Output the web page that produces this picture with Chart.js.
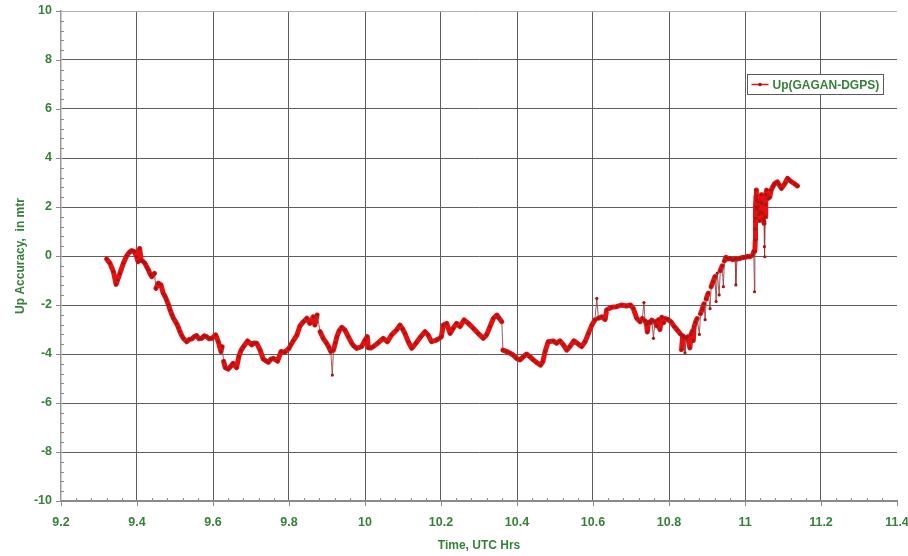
<!DOCTYPE html>
<html>
<head>
<meta charset="utf-8">
<title>Up(GAGAN-DGPS)</title>
<script src="https://cdn.jsdelivr.net/npm/chart.js@4.4.1/dist/chart.umd.min.js"></script>
<style>
  html, body { margin: 0; padding: 0; background: #ffffff; }
  #wrap { width: 908px; height: 556px; position: relative; }
</style>
</head>
<body>
<div id="wrap"><canvas id="chart" width="908" height="556"></canvas></div>
<script>
// Labels
const seriesName = 'Up(GAGAN-DGPS)';
const xTitle = 'Time, UTC Hrs';
const yTitle = 'Up Accuracy,  in mtr';

// Axis ranges and tick spacing
const xBounds = [9.2, 11.4];
const xStep = 0.2;
const xMinorStep = 0.04;
const yBounds = [-10, 10];
const yStep = 2;
const yMinorStep = 0.4;

// Time of each sample, UTC hours
const timeHrs = [
  9.320, 9.329, 9.338, 9.345, 9.349, 9.355, 9.364, 9.373, 9.380, 9.386,
  9.393, 9.399, 9.403, 9.407, 9.411, 9.416, 9.421, 9.426, 9.430, 9.435,
  9.439, 9.446, 9.450, 9.456, 9.463, 9.469, 9.474, 9.478, 9.483, 9.487,
  9.492, 9.496, 9.504, 9.509, 9.513, 9.518, 9.522, 9.531, 9.538, 9.544,
  9.550, 9.557, 9.563, 9.570, 9.577, 9.583, 9.590, 9.597, 9.607, 9.614,
  9.621, 9.624, 9.628, 9.632, 9.640, 9.647, 9.653, 9.662, 9.668, 9.674,
  9.680, 9.691, 9.702, 9.708, 9.715, 9.724, 9.732, 9.739, 9.746, 9.752,
  9.759, 9.770, 9.779, 9.789, 9.800, 9.805, 9.811, 9.821, 9.829, 9.838,
  9.847, 9.855, 9.864, 9.868, 9.874, 9.882, 9.890, 9.899, 9.905, 9.910,
  9.914, 9.917, 9.922, 9.926, 9.932, 9.939, 9.947, 9.956, 9.965, 9.971,
  9.978, 9.991, 10.000, 10.006, 10.009, 10.015, 10.022, 10.035, 10.048, 10.059,
  10.070, 10.083, 10.092, 10.099, 10.105, 10.114, 10.123, 10.134, 10.147, 10.158,
  10.166, 10.175, 10.188, 10.197, 10.201, 10.206, 10.215, 10.224, 10.232, 10.241,
  10.250, 10.261, 10.272, 10.285, 10.298, 10.311, 10.320, 10.329, 10.338, 10.347,
  10.353, 10.360, 10.363, 10.373, 10.382, 10.390, 10.399, 10.408, 10.417, 10.425,
  10.434, 10.443, 10.452, 10.462, 10.468, 10.474, 10.482, 10.496, 10.504, 10.513,
  10.522, 10.531, 10.539, 10.550, 10.561, 10.570, 10.579, 10.588, 10.597, 10.605,
  10.610, 10.614, 10.623, 10.632, 10.636, 10.649, 10.662, 10.675, 10.688, 10.699,
  10.706, 10.715, 10.724, 10.730, 10.734, 10.737, 10.741, 10.743, 10.746, 10.751,
  10.755, 10.759, 10.763, 10.768, 10.772, 10.776, 10.781, 10.786, 10.790, 10.797,
  10.805, 10.814, 10.822, 10.830, 10.833, 10.836, 10.840, 10.842, 10.845, 10.849,
  10.855, 10.858, 10.862, 10.864, 10.866, 10.870, 10.874, 10.880, 10.883, 10.888,
  10.892, 10.895, 10.898, 10.903, 10.908, 10.911, 10.916, 10.921, 10.924, 10.927,
  10.932, 10.935, 10.940, 10.943, 10.946, 10.950, 10.956, 10.961, 10.968, 10.974,
  10.976, 10.979, 10.987, 10.994, 11.000, 11.007, 11.013, 11.020, 11.023, 11.025,
  11.026, 11.027, 11.027, 11.028, 11.028, 11.029, 11.029, 11.031, 11.032, 11.034,
  11.035, 11.037, 11.038, 11.040, 11.041, 11.043, 11.044, 11.046, 11.048, 11.050,
  11.051, 11.0515, 11.052, 11.053, 11.054, 11.055, 11.057, 11.061, 11.065, 11.069,
  11.074, 11.078, 11.085, 11.090, 11.096, 11.105, 11.112, 11.117, 11.122, 11.131,
  11.138
];

// Up position error against DGPS, metres
const upErrM = [
  -0.12, -0.30, -0.64, -1.16, -0.98, -0.71, -0.30, 0.01, 0.15, 0.22,
  0.18, -0.03, -0.23, 0.31, -0.16, -0.22, -0.30, -0.45, -0.57, -0.75,
  -0.84, -0.71, -1.32, -1.11, -1.18, -1.52, -1.65, -1.80, -2.00, -2.20,
  -2.40, -2.54, -2.75, -2.92, -3.09, -3.25, -3.36, -3.50, -3.40, -3.39,
  -3.30, -3.25, -3.38, -3.36, -3.26, -3.29, -3.38, -3.36, -3.22, -3.50,
  -3.90, -3.70, -4.30, -4.55, -4.62, -4.50, -4.38, -4.56, -4.10, -3.85,
  -3.70, -3.47, -3.63, -3.55, -3.56, -3.84, -4.20, -4.28, -4.34, -4.22,
  -4.18, -4.29, -3.90, -3.93, -3.77, -3.62, -3.47, -3.22, -2.85, -2.68,
  -2.54, -2.75, -2.48, -2.82, -2.41, -3.09, -3.36, -3.56, -3.72, -3.90,
  -4.86, -3.84, -3.55, -3.29, -3.05, -2.91, -3.02, -3.29, -3.56, -3.68,
  -3.77, -3.70, -3.43, -3.29, -3.75, -3.76, -3.70, -3.54, -3.36, -3.50,
  -3.22, -3.02, -2.82, -2.98, -3.16, -3.50, -3.77, -3.56, -3.29, -3.09,
  -3.22, -3.50, -3.43, -3.35, -3.29, -2.82, -2.75, -3.16, -2.95, -2.75,
  -2.88, -2.61, -2.75, -2.95, -3.16, -3.36, -3.22, -2.88, -2.54, -2.41,
  -2.54, -2.68, -3.84, -3.90, -3.97, -4.04, -4.18, -4.24, -4.11, -4.00,
  -4.11, -4.24, -4.35, -4.45, -4.31, -3.90, -3.50, -3.47, -3.56, -3.46,
  -3.63, -3.84, -3.70, -3.46, -3.59, -3.70, -3.50, -3.16, -2.82, -2.61,
  -1.73, -2.54, -2.48, -2.59, -2.20, -2.09, -2.07, -2.00, -2.04, -2.00,
  -2.14, -2.54, -2.68, -2.55, -1.90, -2.65, -2.80, -3.10, -2.70, -2.72,
  -2.62, -3.36, -2.68, -2.85, -2.60, -3.00, -2.50, -2.72, -2.55, -2.59,
  -2.68, -2.88, -3.02, -3.18, -3.82, -3.25, -3.32, -3.95, -3.35, -3.30,
  -3.75, -3.20, -3.05, -3.45, -2.90, -2.70, -2.55, -3.20, -2.35, -2.15,
  -1.95, -2.60, -1.75, -1.52, -2.15, -1.25, -1.05, -0.84, -1.86, -0.70,
  -1.59, -0.60, -0.40, -1.25, -0.20, -0.05, -0.12, -0.10, -0.15, -0.12,
  -1.18, -0.12, -0.10, -0.06, -0.05, -0.02, -0.03, 0.04, 0.18, -1.46,
  0.20, 0.65, 1.10, 1.55, 2.00, 2.45, 2.69, 2.30, 1.90, 2.20,
  2.01, 1.70, 1.45, 1.80, 2.20, 2.50, 2.15, 1.75, 1.50, 1.33,
  0.38, 1.40, -0.03, 1.60, 2.10, 2.50, 2.69, 2.35, 2.40, 2.69,
  2.85, 2.96, 3.03, 2.90, 2.76, 2.96, 3.17, 3.10, 3.03, 2.94,
  2.86
];

const points = timeHrs.map((t, i) => ({ x: t, y: upErrM[i] }));

const GREEN = '#37803a';
const FONT = '"Liberation Sans", Arial, sans-serif';
const TRACE = 'rgb(230,16,16)';
const JUMP = 'rgba(150,60,60,0.85)';

// Sudden jumps between consecutive samples are drawn as thin connectors
const jumpLimit = 0.58;
function isJump(ctx) {
  return Math.abs(ctx.p1.parsed.y - ctx.p0.parsed.y) > jumpLimit;
}

const near = (a, b) => Math.abs(a - b) < 1e-6;

// Fixed plot frame: axes keep their own size, edge labels may overhang
function fixX(s) {
  s.height = 55;
  s.paddingLeft = 0; s.paddingRight = 0;
}
function fixY(s) {
  s.width = 61;
  s.paddingTop = 0; s.paddingBottom = 0;
}

// Ticks: major marks point outward, minor marks point into the plot
const axisTicks = {
  id: 'axisTicks',
  afterDraw(chart) {
    const { ctx, chartArea: a, scales } = chart;
    ctx.save();
    ctx.strokeStyle = '#8a8a8a';
    ctx.lineWidth = 1;
    const nx = Math.round((xBounds[1] - xBounds[0]) / xMinorStep);
    const perX = Math.round(xStep / xMinorStep);
    for (let i = 0; i <= nx; i++) {
      const px = Math.round(scales.x.getPixelForValue(xBounds[0] + i * xMinorStep)) + 0.5;
      ctx.beginPath();
      if (i % perX === 0) { ctx.moveTo(px, a.bottom); ctx.lineTo(px, a.bottom + 5); }
      else { ctx.moveTo(px, a.bottom); ctx.lineTo(px, a.bottom - 3); }
      ctx.stroke();
    }
    const ny = Math.round((yBounds[1] - yBounds[0]) / yMinorStep);
    const perY = Math.round(yStep / yMinorStep);
    for (let i = 0; i <= ny; i++) {
      const py = Math.round(scales.y.getPixelForValue(yBounds[0] + i * yMinorStep)) + 0.5;
      ctx.beginPath();
      if (i % perY === 0) { ctx.moveTo(a.left - 5, py); ctx.lineTo(a.left, py); }
      else { ctx.moveTo(a.left, py); ctx.lineTo(a.left + 3, py); }
      ctx.stroke();
    }
    ctx.restore();
  }
};

// Boxed legend inside the plot, upper right
const boxLegend = {
  id: 'boxLegend',
  afterDraw(chart) {
    const { ctx, chartArea: a } = chart;
    const w = 136, h = 20;
    const x0 = a.right - 149.5, y0 = a.top + 63.5;
    ctx.save();
    ctx.fillStyle = '#ffffff';
    ctx.fillRect(x0, y0, w, h);
    ctx.strokeStyle = '#5a5a5a';
    ctx.lineWidth = 1;
    ctx.strokeRect(x0, y0, w, h);
    const ly = y0 + h / 2;
    ctx.strokeStyle = TRACE;
    ctx.lineWidth = 1.5;
    ctx.beginPath(); ctx.moveTo(x0 + 4, ly); ctx.lineTo(x0 + 21, ly); ctx.stroke();
    ctx.fillStyle = '#a51515';
    ctx.beginPath(); ctx.arc(x0 + 12.5, ly, 1.8, 0, Math.PI * 2); ctx.fill();
    ctx.fillStyle = GREEN;
    ctx.font = 'bold 12px ' + FONT;
    ctx.textBaseline = 'middle';
    ctx.textAlign = 'left';
    ctx.fillText(seriesName, x0 + 25, ly + 1);
    ctx.restore();
  }
};

new Chart(document.getElementById('chart'), {
  type: 'line',
  data: {
    datasets: [{
      label: seriesName,
      data: points,
      borderColor: TRACE,
      borderWidth: 5,
      borderJoinStyle: 'round',
      borderCapStyle: 'round',
      pointRadius: 1.6,
      pointBorderWidth: 0,
      pointBackgroundColor: '#a51515',
      tension: 0,
      segment: {
        borderWidth: ctx => isJump(ctx) ? 1 : undefined,
        borderColor: ctx => isJump(ctx) ? JUMP : undefined
      }
    }]
  },
  options: {
    responsive: false,
    animation: false,
    devicePixelRatio: 1,
    layout: { padding: { top: 11, right: 11, left: 0, bottom: 0 } },
    plugins: { legend: { display: false }, tooltip: { enabled: false } },
    scales: {
      x: {
        type: 'linear',
        min: xBounds[0], max: xBounds[1],
        afterFit: fixX,
        ticks: {
          stepSize: xStep,
          padding: 14,
          maxRotation: 0,
          autoSkip: false,
          color: GREEN,
          font: { family: FONT, size: 12.5, weight: 'bold' },
          callback: v => String(+(+v).toFixed(1))
        },
        grid: {
          drawTicks: false,
          lineWidth: 1,
          color: c => (near(c.tick.value, xBounds[0]) || near(c.tick.value, xBounds[1])) ? 'rgba(0,0,0,0)' : '#5e5e5e'
        },
        border: { display: true, color: '#8a8a8a', width: 2 },
        title: {
          display: true, text: xTitle, color: GREEN,
          font: { family: FONT, size: 12, weight: 'bold' },
          padding: { top: 0, bottom: 3 }
        }
      },
      y: {
        type: 'linear',
        min: yBounds[0], max: yBounds[1],
        afterFit: fixY,
        ticks: {
          stepSize: yStep,
          padding: 9,
          color: GREEN,
          font: { family: FONT, size: 12.5, weight: 'bold' }
        },
        grid: {
          drawTicks: false,
          lineWidth: 1,
          color: c => near(c.tick.value, yBounds[0]) ? 'rgba(0,0,0,0)'
                    : near(c.tick.value, yBounds[1]) ? '#b0b0b0' : '#5e5e5e'
        },
        border: { display: true, color: '#9a9a9a', width: 1.5 },
        title: {
          display: true, text: yTitle, color: GREEN,
          font: { family: FONT, size: 12, weight: 'bold' },
          padding: { top: 13, bottom: 0 }
        }
      }
    }
  },
  plugins: [axisTicks, boxLegend]
});
</script>
</body>
</html>
